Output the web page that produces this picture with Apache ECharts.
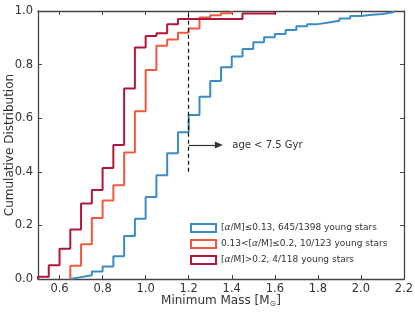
<!DOCTYPE html>
<html><head><meta charset="utf-8">
<script src="https://cdn.jsdelivr.net/npm/echarts@6/dist/echarts.min.js"></script>
<style>html,body{margin:0;padding:0;background:#fff}#c{width:415px;height:312px}</style>
</head><body><div id="c"></div>
<script>
// bin edges (width 0.05) in minimum mass
const binEdges = [0.50,0.55,0.60,0.65,0.70,0.75,0.80,0.85,0.90,0.95,1.00,1.05,1.10,1.15,1.20,1.25,1.30,1.35,1.40,1.45,1.50,1.55,1.60,1.65,1.70,1.75,1.80,1.85,1.90,1.95,2.00,2.05,2.10,2.15,2.20];
// cumulative fraction per bin (value over [edge_i, edge_i+1]); 0 = not yet started; 1.0 = reached
const lowAlphaCum = [0,0,0,0.007,0.014,0.028,0.047,0.085,0.160,0.225,0.306,0.387,0.469,0.548,0.612,0.680,0.739,0.790,0.830,0.858,0.883,0.902,0.914,0.929,0.943,0.951,0.957,0.964,0.972,0.981,0.986,0.989,0.995,1.0];
const midAlphaCum = [0,0,0,0.049,0.130,0.228,0.293,0.350,0.472,0.626,0.780,0.870,0.894,0.919,0.935,0.976,0.984,0.992,1.0];
const highAlphaCum = [0.0085,0.051,0.113,0.185,0.282,0.332,0.414,0.500,0.711,0.864,0.907,0.917,0.951,0.970,0.970,0.970,0.970,0.970,0.970,0.991,0.991,0.991,1.0];
const seriesNames = ['[{i|α}/M]≤0.13, 645/1398 young stars','0.13<[{i|α}/M]≤0.2, 10/123 young stars','[{i|α}/M]>0.2, 4/118 young stars'];
const seriesColors = ['#3a8cc4','#ef5a3d','#b1173a'];
const xTicks = [0.6,0.8,1.0,1.2,1.4,1.6,1.8,2.0,2.2];
const ageCut = 1.2;
const ageCutRange = [0.4,1.0];
const arrowY = 0.5, arrowEnd = 1.34;
const annotation = 'age < 7.5 Gyr';

function stepPoints(cum){
  const pts = [];
  let started = false;
  for (let i=0;i<cum.length;i++){
    const v = cum[i];
    if (!started){ if (v===0) continue; started = true; pts.push([binEdges[i],0]); }
    pts.push([binEdges[i], v]);
    if (v>=1) break;
  }
  return pts;
}
const FONT = 'DejaVu Sans';
const axisCol = '#444';
const chart = echarts.init(document.getElementById('c'), null, {renderer:'canvas'});
const mk = (name, cum, color, extra) => Object.assign({
  name, type:'line', step:'end', data: stepPoints(cum), showSymbol:false, symbol:'none',
  lineStyle:{color, width:2}, itemStyle:{color}, animation:false, clip:true, z:3
}, extra||{});
chart.setOption({
  animation:false,
  textStyle:{fontFamily:FONT},
  grid:{left:38,right:11,top:11,bottom:33,containLabel:false,outerBoundsMode:'none'},
  legend:{
    orient:'vertical', left:185, top:218, itemWidth:25, itemHeight:8, itemGap:6, padding:5,
    icon:'rect',
    textStyle:{fontFamily:FONT,fontSize:9,color:'#333', rich:{i:{fontStyle:'italic',fontFamily:FONT,fontSize:9,color:'#333'}}},
    data: seriesNames.map((n,k)=>({name:n, itemStyle:{color:'rgba(255,255,255,0)', borderColor:seriesColors[k], borderWidth:2}}))
  },
  xAxis:[{
    type:'value', min:0.5, max:2.2, position:'bottom',
    name:'Minimum Mass [M{s|⊙}]', nameLocation:'middle', nameGap:14, nameMoveOverlap:false,
    nameTextStyle:{fontFamily:FONT,fontSize:12,color:'#333', rich:{s:{fontSize:8,padding:[7,0,0,0],color:'#333',fontFamily:FONT}}},
    axisLine:{show:true,onZero:false,lineStyle:{color:axisCol,width:1.3}},
    axisTick:{show:true,inside:true,length:4,customValues:xTicks,lineStyle:{color:axisCol}},
    axisLabel:{show:true,customValues:xTicks,formatter:v=>v.toFixed(1),fontFamily:FONT,fontSize:11.5,color:'#333',margin:4},
    splitLine:{show:false}
  },{
    type:'value', min:0.5, max:2.2, position:'top',
    axisLine:{show:true,onZero:false,lineStyle:{color:axisCol,width:1.3}},
    axisTick:{show:true,inside:true,length:4,customValues:xTicks,lineStyle:{color:axisCol}},
    axisLabel:{show:false}, splitLine:{show:false}
  }],
  yAxis:[{
    type:'value', min:0, max:1, interval:0.2, position:'left',
    name:'Cumulative Distribution', nameLocation:'middle', nameGap:22, nameRotate:90, nameMoveOverlap:false,
    nameTextStyle:{fontFamily:FONT,fontSize:12,color:'#333'},
    axisLine:{show:true,onZero:false,lineStyle:{color:axisCol,width:1.3}},
    axisTick:{show:true,inside:true,length:4,lineStyle:{color:axisCol}},
    axisLabel:{formatter:v=>v.toFixed(1),fontFamily:FONT,fontSize:11.5,color:'#333',margin:5},
    splitLine:{show:false}
  },{
    type:'value', min:0, max:1, interval:0.2, position:'right',
    axisLine:{show:true,onZero:false,lineStyle:{color:axisCol,width:1.3}},
    axisTick:{show:true,inside:true,length:4,lineStyle:{color:axisCol}},
    axisLabel:{show:false}, splitLine:{show:false}
  }],
  series:[
    mk(seriesNames[0], lowAlphaCum, seriesColors[0], {
      markLine:{
        silent:true, symbol:['none','none'], animation:false, label:{show:false},
        data:[
          [{coord:[ageCut,ageCutRange[0]], lineStyle:{type:[4,3],color:'#111',width:1.2}},{coord:[ageCut,ageCutRange[1]]}],
          [{coord:[ageCut,arrowY], symbol:'none', lineStyle:{type:'solid',color:'#333',width:1.2}},{coord:[arrowEnd,arrowY], symbol:'triangle', symbolSize:[7,8], symbolRotate:-90}]
        ]
      },
      markPoint:{
        silent:true, animation:false, symbol:'circle', symbolSize:1, itemStyle:{color:'rgba(0,0,0,0)'},
        label:{show:true,position:'right',distance:0,formatter:annotation,fontFamily:FONT,fontSize:10,color:'#333'},
        data:[{coord:[1.40,arrowY]}]
      }
    }),
    mk(seriesNames[1], midAlphaCum, seriesColors[1]),
    mk(seriesNames[2], highAlphaCum, seriesColors[2])
  ]
});
</script></body></html>
